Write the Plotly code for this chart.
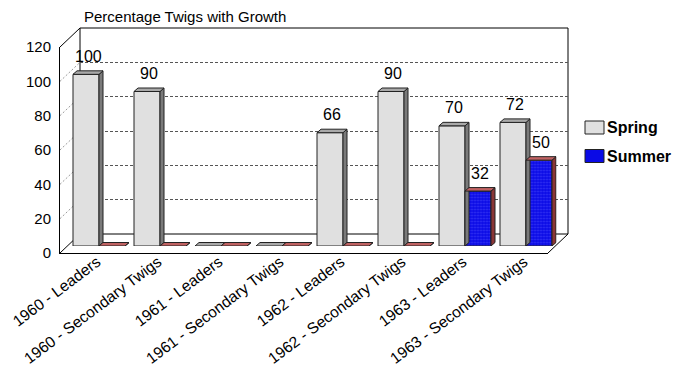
import plotly.graph_objects as go

# ---- data ----
categories = [
    "1960 - Leaders", "1960 - Secondary Twigs",
    "1961 - Leaders", "1961 - Secondary Twigs",
    "1962 - Leaders", "1962 - Secondary Twigs",
    "1963 - Leaders", "1963 - Secondary Twigs",
]
spring = [100, 90, 0, 0, 66, 90, 70, 72]
summer = [0, 0, 0, 0, 0, 0, 32, 50]
y_ticks = [0, 20, 40, 60, 80, 100, 120]

# ---- geometry of the pseudo-3D box (pixels: left, right, zero line, top line) ----
W, H = 676, 379
Y_MAX = 120
BACK = (80, 568, 234, 28)      # back wall
MID = (68.5, 556.5, 246, 40)   # plane the bars stand on
FRONT = (60, 548, 253, 47)     # front edge carrying the axes
FONT = "Liberation Sans, Arial, sans-serif"

idx = list(range(len(categories)))
n = len(categories)


def domains(frame):
    l, r, z, t = frame
    return [l / W, r / W], [1 - z / H, 1 - t / H]


def paper_pt(frame, xfrac, yval):
    l, r, z, t = frame
    px = l + xfrac * (r - l)
    py = z - yval / Y_MAX * (z - t)
    return px / W, 1 - py / H


# bar width and depth expressed in data units of the bar plane
cat_px = (MID[1] - MID[0]) / n
unit_px = (MID[2] - MID[3]) / Y_MAX
bw = 26 / cat_px
dx = 4 / cat_px
dy = 3.5 / unit_px


def faces(lefts, vals):
    tx, ty, sx, sy = [], [], [], []
    for x0, v in zip(lefts, vals):
        x1 = x0 + bw
        tx += [x0, x1, x1 + dx, x0 + dx, x0, None]
        ty += [v, v, v + dy, v + dy, v, None]
        sx += [x1, x1 + dx, x1 + dx, x1, x1, None]
        sy += [0, dy, v + dy, v, 0, None]
    return tx, ty, sx, sy


def face_trace(xs, ys, fill):
    return go.Scatter(x=xs, y=ys, mode="lines", fill="toself", fillcolor=fill,
                      line=dict(color="#222222", width=1), xaxis="x2", yaxis="y2",
                      hoverinfo="skip", showlegend=False)


fig = go.Figure()

# empty trace so the back-wall subplot (gridlines) is drawn first
fig.add_trace(go.Scatter(x=[None], y=[None], xaxis="x", yaxis="y", showlegend=False,
                         hoverinfo="skip"))

spring_left = [i - bw for i in idx]
summer_left = [i for i in idx]

# spring bars: side, top, front
tx, ty, sx, sy = faces(spring_left, spring)
fig.add_trace(face_trace(sx, sy, "#7a7a7a"))
fig.add_trace(face_trace(tx, ty, "#a9a9a9"))
fig.add_trace(go.Bar(x=idx, y=spring, width=bw, offset=-bw, name="Spring",
                     marker=dict(color="#e0e0e0", line=dict(color="#222222", width=1)),
                     xaxis="x2", yaxis="y2", showlegend=False))

# summer bars: side, top, front
tx, ty, sx, sy = faces(summer_left, summer)
fig.add_trace(face_trace(sx, sy, "#8a3636"))
fig.add_trace(face_trace(tx, ty, "#c06262"))
fig.add_trace(go.Bar(x=idx, y=summer, width=bw, offset=0, name="Summer",
                     marker=dict(color="#0a0ae6",
                                 pattern=dict(shape=".", fgcolor="#5a5aff", bgcolor="#0a0ae6",
                                              size=3, solidity=0.35),
                                 line=dict(color="#222222", width=1)),
                     xaxis="x2", yaxis="y2", showlegend=False))

# empty trace so the front axes get drawn
fig.add_trace(go.Scatter(x=[None], y=[None], xaxis="x3", yaxis="y3", showlegend=False,
                         hoverinfo="skip"))

# value labels above non-zero bars
annotations = []
for lefts, vals in ((spring_left, spring), (summer_left, summer)):
    for x0, v in zip(lefts, vals):
        if v:
            annotations.append(dict(x=x0 + bw / 2 + dx / 2, y=v, xref="x2", yref="y2",
                                    text=str(v), showarrow=False, yshift=18,
                                    font=dict(family=FONT, size=16, color="#000000")))

# title
annotations.append(dict(x=82 / W, y=1 - 16 / H, xref="paper", yref="paper",
                        xanchor="left", yanchor="middle", showarrow=False,
                        text="Percentage Twigs with Growth",
                        font=dict(family=FONT, size=15, color="#000000")))

# legend
shapes = []
legend_items = [("Spring", "#e0e0e0", 127.5), ("Summer", "#0a0ae6", 156)]
for label, col, cy in legend_items:
    shapes.append(dict(type="rect", xref="paper", yref="paper",
                       x0=585 / W, x1=604 / W, y0=1 - (cy + 6.5) / H, y1=1 - (cy - 6.5) / H,
                       fillcolor=col, line=dict(color="#222222", width=1)))
    annotations.append(dict(x=604.5 / W, y=1 - cy / H, xref="paper", yref="paper",
                            xanchor="left", yanchor="middle", showarrow=False,
                            text="<b>%s</b>" % label,
                            font=dict(family=FONT, size=16, color="#000000")))

# back wall outline and floor back edge
shapes.append(dict(type="rect", xref="x domain", yref="y domain", x0=0, x1=1, y0=0, y1=1,
                   line=dict(color="#000000", width=1), layer="below"))

# slanted edges joining the front edge to the back wall
for xf, yv in ((0, Y_MAX), (0, 0), (1, 0)):
    fx, fy = paper_pt(FRONT, xf, yv)
    bx, by = paper_pt(BACK, xf, yv)
    shapes.append(dict(type="line", xref="paper", yref="paper", x0=fx, y0=fy, x1=bx, y1=by,
                       line=dict(color="#000000", width=1), layer="below"))

# dashed grid on the left wall
for yv in y_ticks[1:-1]:
    fx, fy = paper_pt(FRONT, 0, yv)
    bx, by = paper_pt(BACK, 0, yv)
    shapes.append(dict(type="line", xref="paper", yref="paper", x0=fx, y0=fy, x1=bx, y1=by,
                       line=dict(color="#9a9a9a", width=1, dash="2px,2px"), layer="below"))

bx_dom, by_dom = domains(BACK)
mx_dom, my_dom = domains(MID)
fx_dom, fy_dom = domains(FRONT)

fig.update_layout(
    width=W, height=H, margin=dict(l=0, r=0, t=0, b=0),
    paper_bgcolor="#ffffff", plot_bgcolor="rgba(0,0,0,0)",
    barmode="overlay", showlegend=False,
    font=dict(family=FONT, color="#000000"),
    # back wall: dashed gridlines
    xaxis=dict(domain=bx_dom, range=[-0.5, n - 0.5], showgrid=False, showticklabels=False,
               ticks="", zeroline=False, showline=False, automargin=False, fixedrange=True),
    yaxis=dict(domain=by_dom, range=[0, Y_MAX], tickvals=y_ticks[1:-1], showgrid=True,
               gridcolor="#555555", griddash="3px,2px", gridwidth=1, showticklabels=False,
               ticks="", zeroline=False, showline=False, automargin=False, fixedrange=True),
    # bar plane, carrying the category labels
    xaxis2=dict(domain=mx_dom, range=[-0.5, n - 0.5], anchor="y2", tickmode="array",
                tickvals=idx, ticktext=categories, tickangle=-37, ticks="",
                showline=False, showgrid=False, zeroline=False, ticklabelshift=-2,
                ticklabelstandoff=3, automargin=False,
                tickfont=dict(family=FONT, size=15.6, color="#000000"), fixedrange=True),
    yaxis2=dict(domain=my_dom, range=[0, Y_MAX], visible=False, anchor="x2",
                automargin=False, fixedrange=True),
    # front edge with the value axis
    xaxis3=dict(domain=fx_dom, range=[-0.5, n - 0.5], anchor="y3", showticklabels=False,
                ticks="", showline=True, linecolor="#000000", linewidth=1, showgrid=False,
                zeroline=False, automargin=False, fixedrange=True),
    yaxis3=dict(domain=fy_dom, range=[0, Y_MAX], anchor="x3", tickmode="array",
                tickvals=y_ticks, ticks="", showline=True, linecolor="#000000",
                linewidth=1, showgrid=False, zeroline=False, ticklabelstandoff=5,
                automargin=False,
                tickfont=dict(family=FONT, size=15, color="#000000"), fixedrange=True),
    shapes=shapes,
    annotations=annotations,
)

fig.write_html("out.html")
